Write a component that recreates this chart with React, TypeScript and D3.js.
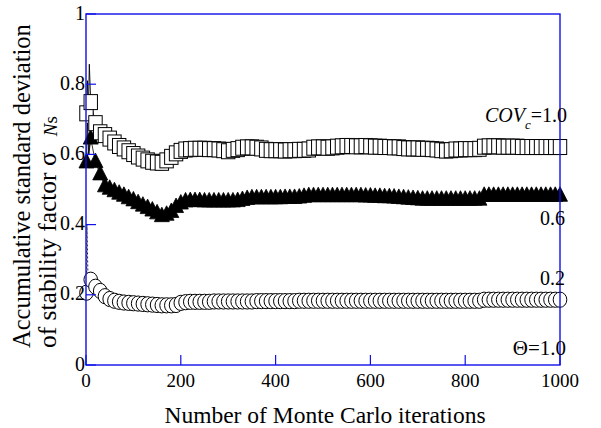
import React from "react";
import * as d3 from "d3";

const ITERATIONS = [
  1, 10, 20, 30, 40, 50, 60, 70, 80, 90,
  100, 110, 120, 130, 140, 150, 160, 170, 180, 190,
  200, 210, 220, 230, 240, 250, 260, 270, 280, 290,
  300, 310, 320, 330, 340, 350, 360, 370, 380, 390,
  400, 410, 420, 430, 440, 450, 460, 470, 480, 490,
  500, 510, 520, 530, 540, 550, 560, 570, 580, 590,
  600, 610, 620, 630, 640, 650, 660, 670, 680, 690,
  700, 710, 720, 730, 740, 750, 760, 770, 780, 790,
  800, 810, 820, 830, 840, 850, 860, 870, 880, 890,
  900, 910, 920, 930, 940, 950, 960, 970, 980, 990,
  1000,
];

// COV_c = 1.0 (squares)
const COV10 = [
  0.717, 0.749, 0.689, 0.663, 0.655, 0.645, 0.634, 0.624, 0.617, 0.609,
  0.601, 0.594, 0.588, 0.583, 0.579, 0.577, 0.576, 0.583, 0.593, 0.603,
  0.61, 0.614, 0.615, 0.616, 0.616, 0.616, 0.615, 0.615, 0.614, 0.612,
  0.609, 0.613, 0.615, 0.619, 0.62, 0.62, 0.619, 0.617, 0.613, 0.612,
  0.612, 0.612, 0.611, 0.612, 0.612, 0.613, 0.613, 0.614, 0.619, 0.62,
  0.62, 0.619, 0.62, 0.622, 0.623, 0.624, 0.624, 0.623, 0.623, 0.624,
  0.623, 0.622, 0.622, 0.621, 0.621, 0.62, 0.62, 0.618, 0.617, 0.617,
  0.617, 0.616, 0.616, 0.615, 0.614, 0.612, 0.611, 0.612, 0.614, 0.614,
  0.615, 0.615, 0.615, 0.616, 0.622, 0.623, 0.623, 0.623, 0.622, 0.622,
  0.622, 0.622, 0.621, 0.621, 0.621, 0.621, 0.621, 0.621, 0.621, 0.621,
  0.621,
];

// COV_c = 0.6 (triangles)
const COV06 = [
  0.577, 0.645, 0.578, 0.543, 0.509, 0.502, 0.495, 0.488, 0.482, 0.475,
  0.469, 0.461, 0.454, 0.447, 0.44, 0.432, 0.424, 0.428, 0.436, 0.45,
  0.46, 0.466, 0.467, 0.467, 0.467, 0.466, 0.466, 0.466, 0.466, 0.466,
  0.466, 0.466, 0.467, 0.47, 0.473, 0.475, 0.475, 0.475, 0.475, 0.475,
  0.475, 0.475, 0.476, 0.476, 0.476, 0.477, 0.479, 0.481, 0.481, 0.481,
  0.481, 0.481, 0.481, 0.481, 0.481, 0.481, 0.481, 0.481, 0.481, 0.48,
  0.48, 0.479, 0.479, 0.478, 0.478, 0.477, 0.476, 0.475, 0.474, 0.473,
  0.472, 0.471, 0.471, 0.471, 0.471, 0.471, 0.471, 0.471, 0.471, 0.471,
  0.471, 0.471, 0.471, 0.471, 0.482, 0.482, 0.482, 0.482, 0.482, 0.482,
  0.482, 0.482, 0.482, 0.482, 0.482, 0.482, 0.482, 0.482, 0.482, 0.482,
  0.482,
];

// COV_c = 0.2 (circles)
const COV02 = [
  0.206, 0.243, 0.223, 0.211, 0.196, 0.188, 0.183, 0.18, 0.178, 0.177,
  0.176, 0.175, 0.174, 0.173, 0.172, 0.171, 0.17, 0.17, 0.17, 0.171,
  0.177, 0.179, 0.18, 0.18, 0.18, 0.18, 0.18, 0.181, 0.181, 0.181,
  0.181, 0.181, 0.181, 0.181, 0.181, 0.181, 0.182, 0.182, 0.182, 0.182,
  0.182, 0.182, 0.182, 0.182, 0.182, 0.183, 0.183, 0.183, 0.183, 0.183,
  0.183, 0.183, 0.183, 0.183, 0.183, 0.183, 0.183, 0.183, 0.183, 0.183,
  0.183, 0.183, 0.183, 0.183, 0.183, 0.183, 0.183, 0.183, 0.183, 0.183,
  0.183, 0.183, 0.183, 0.183, 0.183, 0.183, 0.183, 0.183, 0.183, 0.183,
  0.183, 0.183, 0.183, 0.183, 0.186, 0.186, 0.186, 0.186, 0.186, 0.186,
  0.186, 0.186, 0.186, 0.186, 0.186, 0.186, 0.186, 0.186, 0.186, 0.186,
  0.186,
];

// early raw (un-marked) iterations of each series
const EARLY_ITER_10 = [1, 3, 5, 7, 10];
const EARLY_10 = [0.717, 0.81, 0.72, 0.857, 0.749];
const EARLY_ITER_06 = [1, 3, 6, 10];
const EARLY_06 = [0.577, 0.69, 0.6, 0.645];
const EARLY_ITER_02 = [1, 2, 4, 10];
const EARLY_02 = [0.206, 0.4, 0.26, 0.243];

const X_TICKS = [0, 200, 400, 600, 800, 1000];
const Y_TICKS = [0, 0.2, 0.4, 0.6, 0.8, 1];

const BLUE = "#1010e8";
const FONT = '"Liberation Serif", "Times New Roman", Times, "DejaVu Serif", serif';

export default function App() {
  const W = 601;
  const H = 428;
  const x = d3.scaleLinear().domain([0, 1000]).range([86, 560]);
  const y = d3.scaleLinear().domain([0, 1]).range([365, 14]);

  const line = d3
    .line<[number, number]>()
    .x((d) => x(d[0]))
    .y((d) => y(d[1]));

  const pts = (it: number[], v: number[]) =>
    it.map((d, i) => [d, v[i]] as [number, number]);

  const triPath = (cx: number, cy: number) =>
    `M${cx},${cy - 9}L${cx - 7.5},${cy + 5.5}L${cx + 7.5},${cy + 5.5}Z`;

  const txt = { fontFamily: FONT, fill: "#000" } as React.CSSProperties;

  return (
    <svg
      width={W}
      height={H}
      style={{ position: "absolute", left: 0, top: 0, background: "#fff", fontFamily: FONT }}
    >
      <rect x={0} y={0} width={W} height={H} fill="#fff" />

      {/* raw lines */}
      <path d={line(pts(EARLY_ITER_10, EARLY_10)) || ""} fill="none" stroke="#000" strokeWidth={0.9} />
      <path d={line(pts(EARLY_ITER_06, EARLY_06)) || ""} fill="none" stroke="#000" strokeWidth={0.9} />
      <path d={line(pts(EARLY_ITER_02, EARLY_02)) || ""} fill="none" stroke="#000" strokeWidth={0.9} strokeDasharray="2,2" />
      <path d={line(pts(ITERATIONS, COV10)) || ""} fill="none" stroke="#000" strokeWidth={0.8} />
      <path d={line(pts(ITERATIONS, COV06)) || ""} fill="none" stroke="#000" strokeWidth={0.8} />
      <path d={line(pts(ITERATIONS, COV02)) || ""} fill="none" stroke="#000" strokeWidth={0.8} />

      {/* circles */}
      {ITERATIONS.map((it, i) => (
        <ellipse
          key={"c" + i}
          cx={x(it)}
          cy={y(COV02[i])}
          rx={6.8}
          ry={7.6}
          fill="#fff"
          stroke="#000"
          strokeWidth={1}
        />
      ))}

      {/* triangles */}
      {ITERATIONS.map((it, i) => (
        <path
          key={"t" + i}
          d={triPath(x(it), y(COV06[i]))}
          fill="#000"
          stroke="#000"
          strokeWidth={0.8}
        />
      ))}

      {/* squares */}
      {ITERATIONS.map((it, i) => (
        <rect
          key={"s" + i}
          x={x(it) - 6.7}
          y={y(COV10[i]) - 7.5}
          width={13.4}
          height={15}
          fill="#fff"
          stroke="#000"
          strokeWidth={1}
        />
      ))}

      {/* frame */}
      <rect
        x={x(0)}
        y={y(1)}
        width={x(1000) - x(0)}
        height={y(0) - y(1)}
        fill="none"
        stroke={BLUE}
        strokeWidth={1.4}
      />

      {/* x ticks */}
      {X_TICKS.map((t) => (
        <g key={"xt" + t}>
          <line x1={x(t)} x2={x(t)} y1={y(0)} y2={y(0) - 10} stroke={BLUE} strokeWidth={1.2} />
          <text x={x(t)} y={387} fontSize={19} textAnchor="middle" style={txt}>
            {t}
          </text>
        </g>
      ))}

      {/* y ticks */}
      {Y_TICKS.map((t) => (
        <g key={"yt" + t}>
          <line x1={x(0)} x2={x(0) + 10} y1={y(t)} y2={y(t)} stroke={BLUE} strokeWidth={1.2} />
          <text x={85} y={y(t) + 5.5} fontSize={20} textAnchor="end" style={txt}>
            {String(t)}
          </text>
        </g>
      ))}

      {/* axis titles */}
      <text x={325} y={423} fontSize={23.5} textAnchor="middle" style={txt}>
        Number of Monte Carlo iterations
      </text>
      <g transform="translate(30,348) rotate(-90)">
        <text x={0} y={0} fontSize={24.5} style={txt}>
          Accumulative standard deviation
        </text>
        <text x={0} y={26} fontSize={25.5} style={txt}>
          of stability factor σ
          <tspan fontSize={19} dx={16} dy={1} fontStyle="italic">N</tspan>
          <tspan fontSize={19}>s</tspan>
        </text>
      </g>

      {/* annotations */}
      <text x={567} y={122} fontSize={20} textAnchor="end" style={txt}>
        <tspan fontStyle="italic">COV</tspan>
        <tspan fontStyle="italic" fontSize={13} dy={7}>c</tspan>
        <tspan dy={-7} dx={0}>=1.0</tspan>
      </text>
      <text x={565} y={225} fontSize={20} textAnchor="end" style={txt}>0.6</text>
      <text x={565} y={285} fontSize={20} textAnchor="end" style={txt}>0.2</text>
      <text x={566} y={355} fontSize={21} textAnchor="end" style={txt}>Θ=1.0</text>
    </svg>
  );
}
